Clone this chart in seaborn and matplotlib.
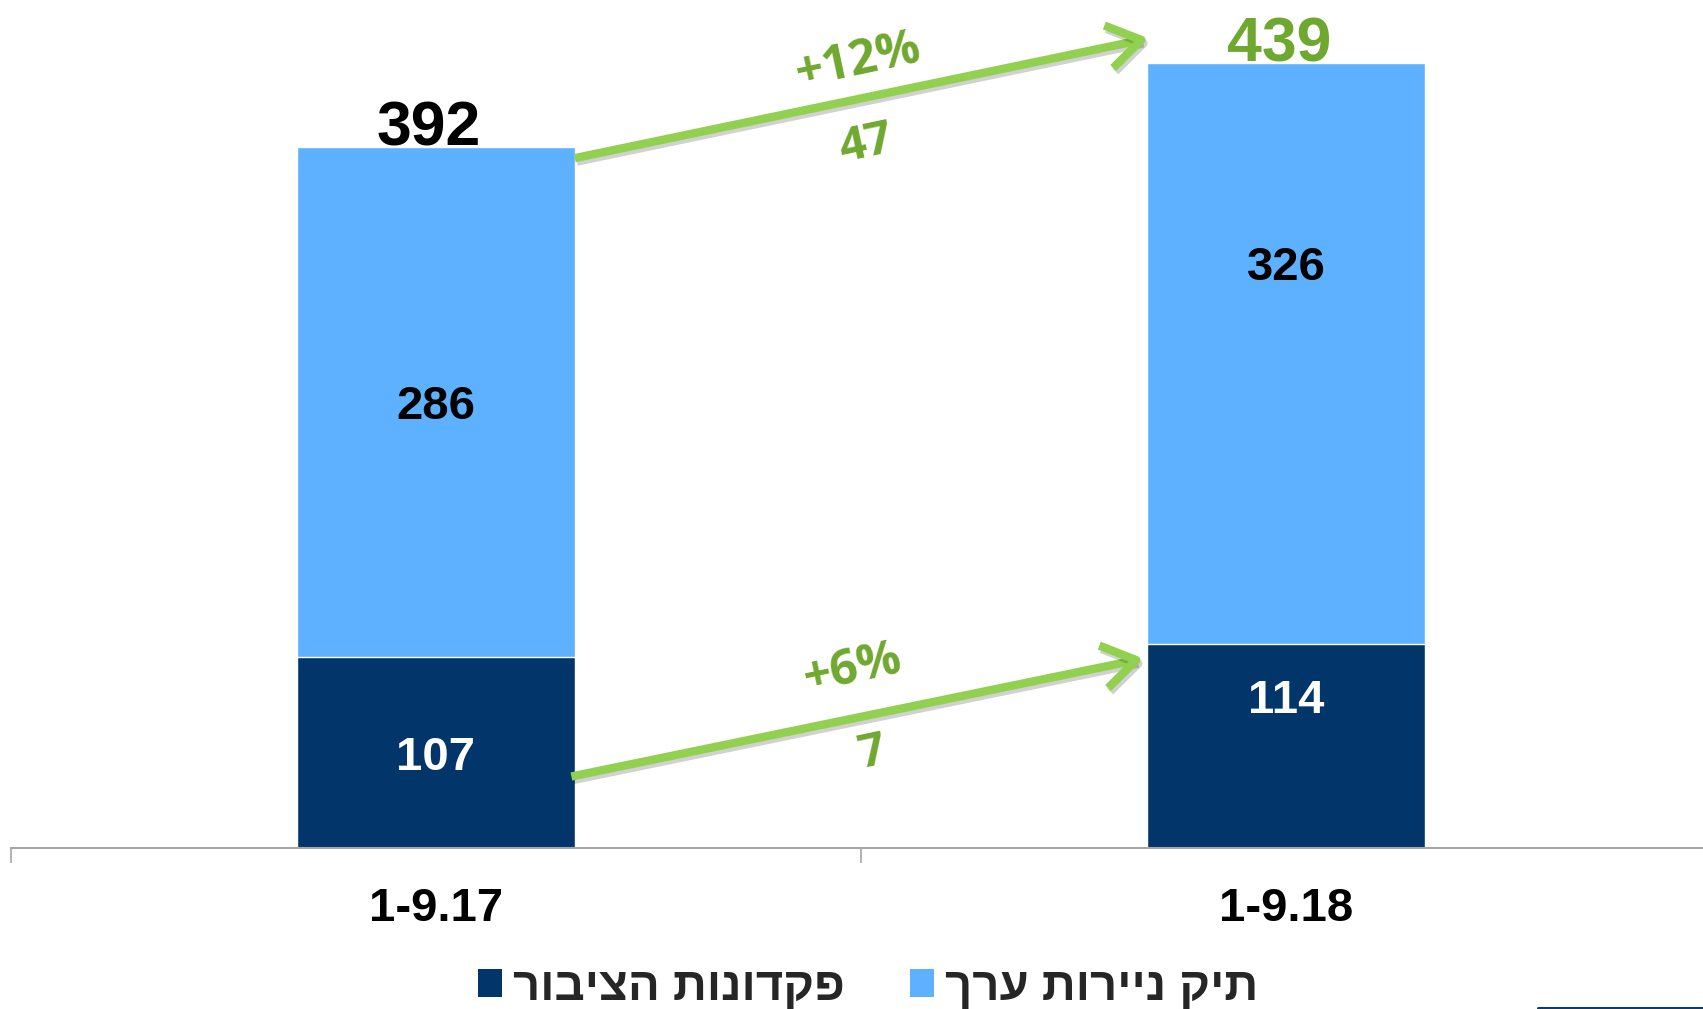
import matplotlib
matplotlib.use("Agg")
import matplotlib.pyplot as plt
import matplotlib.patheffects as pe
from matplotlib.patches import Patch
from matplotlib.lines import Line2D
from matplotlib.ticker import FixedLocator
import seaborn as sns

# data
periods = ['1-9.17', '1-9.18']
deposits = [107, 114]          # פקדונות הציבור
securities = [286, 326]        # תיק ניירות ערך
totals = [392, 439]
change_pct = ['+12%', '+6%']
change_abs = ['47', '7']
legend_labels = ['פקדונות הציבור', 'תיק ניירות ערך']

dark = '#02366A'
light = '#5DB1FE'
arrow_green = '#92D050'
text_green = '#6FA82F'

sns.set_style('white')
plt.rcParams['font.family'] = ['Liberation Sans', 'DejaVu Sans']

fig = plt.figure(figsize=(17.03, 10.09), dpi=100)
ax = fig.add_axes([10.5 / 1703, 161 / 1009, 1701 / 1703, 840 / 1009])

bw = 0.327
# full bar in light blue, deposits drawn over it
sns.barplot(x=periods, y=totals, color=light, saturation=1, width=bw, ax=ax)
sns.barplot(x=periods, y=deposits, color=dark, saturation=1, width=bw, ax=ax)

ax.set_xlim(-0.5, 1.5)
ax.set_ylim(0, 470)
ax.set_yticks([])
for s in ['left', 'right', 'top']:
    ax.spines[s].set_visible(False)
ax.spines['bottom'].set_color('#A6A6A6')
ax.spines['bottom'].set_linewidth(1.5)

ax.set_xticks(range(len(periods)))
ax.set_xticklabels(periods, fontsize=34, fontweight='bold', color='black')
ax.tick_params(axis='x', which='major', length=0, pad=28)
ax.xaxis.set_minor_locator(FixedLocator([-0.5, 0.5, 1.5]))
ax.tick_params(axis='x', which='minor', bottom=True, length=11, width=1.2,
               color='#A6A6A6', direction='out')

# segment labels
inner_pos = [[0.5, 0.5], [0.75, 0.655]]
for i in range(len(periods)):
    ax.text(i, deposits[i] * inner_pos[i][0] - 3, str(deposits[i]), ha='center', va='center',
            fontsize=34, fontweight='bold', color='white')
    ax.text(i, deposits[i] + securities[i] * inner_pos[i][1] - 3, str(securities[i]), ha='center',
            va='center', fontsize=34, fontweight='bold', color='black')

# totals on top
total_colors = ['black', text_green]
for i in range(len(periods)):
    ax.text(i - 0.008, totals[i] + 1, str(totals[i]), ha='center', va='baseline',
            fontsize=45, fontweight='bold', color=total_colors[i])

# growth arrows
arrows = [((bw / 2, totals[0] - 6), (1 - bw / 2 + 0.002, totals[1] + 14)),
          ((bw / 2 - 0.004, 40), (1 - bw / 2 - 0.004, deposits[1] - 8))]
for (x0, y0), (x1, y1) in arrows:
    ann = ax.annotate('', xy=(x1, y1), xytext=(x0, y0),
                      arrowprops=dict(arrowstyle='->,head_length=1.0,head_width=0.65',
                                      mutation_scale=24, lw=6, color=arrow_green,
                                      shrinkA=0, shrinkB=0, capstyle='butt'))
    ann.arrow_patch.set_path_effects([pe.SimpleLineShadow(offset=(1.5, -2.5), alpha=0.18,
                                                          shadow_color='black'),
                                      pe.Normal()])

lab_font = dict(family=['Open Sans', 'DejaVu Sans'], fontweight='bold', color=text_green,
                ha='center', va='center', rotation=12, rotation_mode='anchor')
ax.text(0.497, 440, change_pct[0], fontsize=35, **lab_font)
ax.text(0.506, 394, change_abs[0], fontsize=34, **lab_font)
ax.text(0.490, 100, change_pct[1], fontsize=35, **lab_font)
ax.text(0.513, 53, change_abs[1], fontsize=34, **lab_font)

# legend (hebrew reversed for display, matplotlib has no bidi)
handles = [Patch(facecolor=dark, edgecolor='none', label=legend_labels[0][::-1]),
           Patch(facecolor=light, edgecolor='none', label=legend_labels[1][::-1])]
fig.legend(handles=handles, loc='center', bbox_to_anchor=(0.5095, 0.021), ncol=2,
           frameon=False, prop=dict(size=34, weight='bold'),
           handlelength=0.51, handleheight=0.53, handletextpad=0.23, columnspacing=1.38)

fig.add_artist(Line2D([1538 / 1703, 1.0], [0.0012, 0.0012], color='#0B3D6E', lw=2.2,
                      transform=fig.transFigure))

fig.savefig('out.png', dpi=100)
